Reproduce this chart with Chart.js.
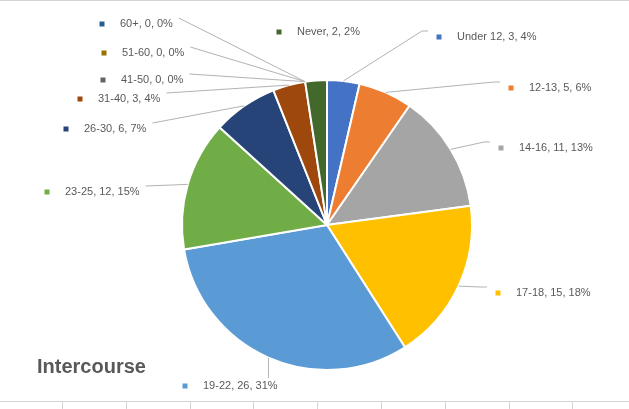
<!DOCTYPE html>
<html>
<head>
<meta charset="utf-8">
<script src="https://cdn.jsdelivr.net/npm/chart.js@4/dist/chart.umd.min.js"></script>
<style>
  html, body { margin: 0; padding: 0; background: #fff; }
  #wrap { width: 629px; height: 409px; position: relative; }
</style>
</head>
<body>
<div id="wrap"><canvas id="pieChart" width="629" height="409"></canvas></div>
<script>
// data
const categories = ["Under 12", "12-13", "14-16", "17-18", "19-22", "23-25", "26-30", "31-40", "41-50", "51-60", "60+", "Never"];
const counts = [3, 5, 11, 15, 26, 12, 6, 3, 0, 0, 0, 2];
const percents = ["4%", "6%", "13%", "18%", "31%", "15%", "7%", "4%", "0%", "0%", "0%", "2%"];
const chartTitle = "Intercourse";

const colors = ["#4472C4", "#ED7D31", "#A5A5A5", "#FFC000", "#5B9BD5", "#70AD47",
                "#264478", "#9E480E", "#636363", "#997300", "#255E91", "#43682B"];

// where each label's colour square sits, relative to the pie centre, and how its leader is drawn
const labelLayout = [
  { dx: 112, dy: -188, side: "right" },
  { dx: 184, dy: -137, side: "right" },
  { dx: 174, dy: -77, side: "right" },
  { dx: 171, dy: 68, side: "right" },
  { dx: -142, dy: 161, side: "below" },
  { dx: -280, dy: -33, side: "left" },
  { dx: -261, dy: -96, side: "left" },
  { dx: -247, dy: -126, side: "left" },
  { dx: -224, dy: -145, side: "left" },
  { dx: -223, dy: -172, side: "left" },
  { dx: -225, dy: -201, side: "left" },
  { dx: -48, dy: -193, side: "none" }
];

const labelFont = "11px 'Liberation Sans', Arial, sans-serif";
const textColor = "#595959";
const leaderColor = "#b3b3b3";

const sheetLines = {
  id: "sheetLines",
  beforeDraw(chart) {
    const ctx = chart.ctx;
    ctx.save();
    ctx.fillStyle = "#fff";
    ctx.fillRect(0, 0, chart.width, chart.height);
    ctx.strokeStyle = "#d4d4d4";
    ctx.lineWidth = 1;
    ctx.beginPath();
    ctx.moveTo(0, 0.5); ctx.lineTo(chart.width, 0.5);
    ctx.moveTo(0, 401.5); ctx.lineTo(chart.width, 401.5);
    for (let x = 62; x < chart.width; x += 63.8) {
      ctx.moveTo(Math.round(x) + 0.5, 401); ctx.lineTo(Math.round(x) + 0.5, chart.height);
    }
    ctx.stroke();
    ctx.restore();
  }
};

const outsideLabels = {
  id: "outsideLabels",
  afterDraw(chart) {
    const ctx = chart.ctx;
    const arcs = chart.getDatasetMeta(0).data;
    ctx.save();
    ctx.font = labelFont;
    ctx.textBaseline = "middle";
    arcs.forEach((arc, i) => {
      const p = arc.getProps(["x", "y", "startAngle", "endAngle", "outerRadius"], true);
      const mid = (p.startAngle + p.endAngle) / 2;
      const ax = p.x + Math.cos(mid) * p.outerRadius;
      const ay = p.y + Math.sin(mid) * p.outerRadius;
      const lay = labelLayout[i];
      const mx = p.x + lay.dx;
      const my = p.y + lay.dy;
      const text = categories[i] + ", " + counts[i] + ", " + percents[i];
      const tx = mx + 18;
      const tw = ctx.measureText(text).width;

      ctx.strokeStyle = leaderColor;
      ctx.lineWidth = 1;
      ctx.beginPath();
      if (lay.side === "right") {
        ctx.moveTo(ax, ay);
        ctx.lineTo(mx - 17, my - 6);
        ctx.lineTo(mx - 11, my - 6);
      } else if (lay.side === "left") {
        ctx.moveTo(ax, ay);
        ctx.lineTo(tx + tw + 6, my - 6);
      } else if (lay.side === "below") {
        ctx.moveTo(Math.round(ax) + 0.5, ay);
        ctx.lineTo(Math.round(ax) + 0.5, my - 8);
      }
      if (lay.side !== "none") ctx.stroke();

      ctx.fillStyle = colors[i];
      ctx.fillRect(mx - 2.5, my - 2.5, 5, 5);
      ctx.fillStyle = textColor;
      ctx.textAlign = "left";
      ctx.fillText(text, tx, my);
    });

    ctx.font = "bold 20px 'Liberation Sans', Arial, sans-serif";
    ctx.fillStyle = textColor;
    ctx.textAlign = "left";
    ctx.textBaseline = "alphabetic";
    ctx.fillText(chartTitle, 37, 373);
    ctx.restore();
  }
};

new Chart(document.getElementById("pieChart"), {
  type: "pie",
  data: {
    labels: categories,
    datasets: [{
      data: counts,
      backgroundColor: colors,
      borderColor: "#ffffff",
      borderWidth: 2
    }]
  },
  options: {
    responsive: false,
    animation: false,
    layout: { padding: { left: 181, right: 156, top: 79, bottom: 38 } },
    plugins: {
      legend: { display: false },
      tooltip: { enabled: false },
      title: { display: false }
    }
  },
  plugins: [sheetLines, outsideLabels]
});
</script>
</body>
</html>
